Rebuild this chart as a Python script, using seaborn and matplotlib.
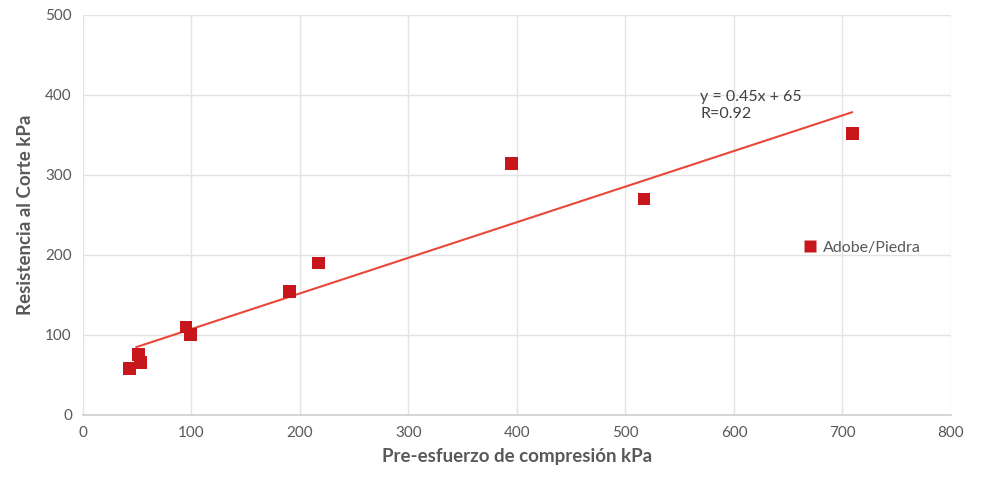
import numpy as np
import pandas as pd
import matplotlib
matplotlib.use("Agg")
import matplotlib.pyplot as plt
import seaborn as sns

# Datos
pre_esfuerzo = [43, 51, 53, 95, 99, 190, 217, 395, 517, 709]
resistencia = [58, 76, 66, 110, 101, 154, 190, 314, 270, 352]

# Línea de tendencia (tal como se ve dibujada) y su etiqueta
pendiente = 0.445
intercepto = 63
texto_ecuacion = "y = 0.45x + 65\nR=0.92"

rojo = "#C8161D"
rojo_linea = "#E8473A"
gris = "#595959"

df = pd.DataFrame({"Pre": pre_esfuerzo, "Res": resistencia, "Serie": "Adobe/Piedra"})

sns.set_theme(style="white")
plt.rcParams["font.family"] = ["Lato", "DejaVu Sans"]

fig = plt.figure(figsize=(9.81, 4.83), dpi=100)
ax = fig.add_axes([0.0846, 0.1408, 0.8848, 0.8282])

ax.grid(True, color="#e3e3e3", linewidth=1)
ax.set_axisbelow(True)

# Línea de tendencia
x_linea = np.array([min(pre_esfuerzo) + 6, max(pre_esfuerzo)])
ax.plot(x_linea, pendiente * x_linea + intercepto, color=rojo_linea, linewidth=1.5, zorder=2)

sns.scatterplot(data=df, x="Pre", y="Res", hue="Serie", palette=[rojo], marker="s",
                s=85, edgecolor="none", ax=ax, zorder=3)

ax.text(569, 406, texto_ecuacion, fontsize=11.5, color="#404040", va="top", ha="left",
        linespacing=1.3)

ax.set_xlim(0, 800)
ax.set_ylim(0, 500)
ax.set_xticks(range(0, 801, 100))
ax.set_yticks(range(0, 501, 100))
ax.tick_params(axis="both", labelsize=11, colors=gris, length=0, pad=8)

ax.set_xlabel("Pre-esfuerzo de compresión kPa", fontsize=13.5, fontweight="bold", color=gris, labelpad=6)
ax.set_ylabel("Resistencia al Corte kPa", fontsize=13.5, fontweight="bold", color=gris, labelpad=8)

for lado in ["top", "right", "left"]:
    ax.spines[lado].set_visible(False)
ax.spines["bottom"].set_color("#d0d0d0")

leg = ax.legend(loc="center left", bbox_to_anchor=(0.812, 0.4175), frameon=False,
                fontsize=11.5, handlelength=1.0, handletextpad=0.3, markerscale=1.0)
for t in leg.get_texts():
    t.set_color(gris)

fig.savefig("out.png", dpi=100)
